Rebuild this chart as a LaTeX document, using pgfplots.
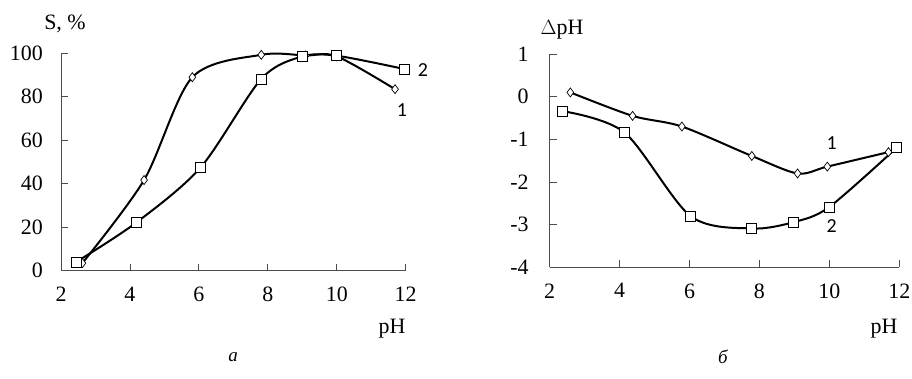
\documentclass[border=0pt]{standalone}
\usepackage{pgfplots}
\pgfplotsset{compat=1.18}
\usepackage{fontspec}
\setmainfont{Liberation Serif}
\newfontfamily\carl{Carlito}
\begin{document}
\begin{tikzpicture}[x=1bp,y=1bp]
\useasboundingbox (0,0) rectangle (912,378);
\pgfplotsset{
  myax/.style={
    scale only axis, axis lines=left,
    axis line style={black!70, line width=1bp, -},
    tick align=inside, major tick length=7bp,
    tick style={black!70, line width=0.8bp},
    xmin=2, xmax=12, xtick={2,4,...,12},
    tick label style={font=\fontsize{22}{22}\selectfont},
    /pgf/number format/assume math mode=true,
    xticklabel style={anchor=north, inner sep=0pt, yshift=-16bp},
    clip=false,
  },
  s1/.style={black, line width=2bp, smooth, tension=0.5, mark=diamond*,
    mark size=4.5bp, mark options={fill=white, line width=0.7bp, solid}},
  s2/.style={black, line width=2bp, smooth, tension=0.5, mark=square*,
    mark size=5bp, mark options={fill=white, line width=0.8bp, solid}},
}
\begin{axis}[myax, at={(61bp,107.3bp)}, anchor=south west,
  width=344.7bp, height=217.4bp, ymin=0, ymax=100, ytick={0,20,...,100},
  yticklabel style={anchor=east, inner sep=0pt, xshift=-18bp}]
\addplot[s1] coordinates {(2.62,3.5) (4.41,41.7) (5.81,89) (7.81,99.3) (9.1,99) (10,98.6) (11.69,83.5)};
\addplot[s2] coordinates {(2.44,4) (4.18,22.1) (6.05,47.5) (7.81,88.2) (8.99,98.5) (9.99,98.9) (11.95,92.8)};
\end{axis}
\begin{axis}[myax, at={(549.7bp,110.7bp)}, anchor=south west,
  width=349.6bp, height=213.3bp, ymin=-4, ymax=1, ytick={-4,...,1},
  yticklabel style={anchor=east, inner sep=0pt, xshift=-21bp}]
\addplot[s1] coordinates {(2.59,0.1) (4.37,-0.45) (5.78,-0.70) (7.78,-1.39) (9.09,-1.80) (9.94,-1.64) (11.69,-1.30)};
\addplot[s2] coordinates {(2.37,-0.34) (4.14,-0.84) (6.03,-2.80) (7.78,-3.09) (8.98,-2.94) (9.99,-2.59) (11.92,-1.20)};
\end{axis}
\node[font=\fontsize{22}{22}\selectfont] at (65,354) {S, \%};
\node[font=\fontsize{22}{22}\selectfont] at (562,348) {$\Delta$pH};
\node[font=\fontsize{22}{22}\selectfont] at (392,49) {pH};
\node[font=\fontsize{22}{22}\selectfont] at (884,49) {pH};
\node[font=\carl\fontsize{20}{20}\selectfont] at (423,308) {2};
\node[font=\carl\fontsize{20}{20}\selectfont] at (402,268) {1};
\node[font=\carl\fontsize{20}{20}\selectfont] at (831.7,235) {1};
\node[font=\carl\fontsize{20}{20}\selectfont] at (831.7,152) {2};
\node[font=\itshape\fontsize{19}{19}\selectfont] at (233,21) {a};
\node[font=\itshape\fontsize{19}{19}\selectfont] at (723,21) {б};
\end{tikzpicture}
\end{document}
